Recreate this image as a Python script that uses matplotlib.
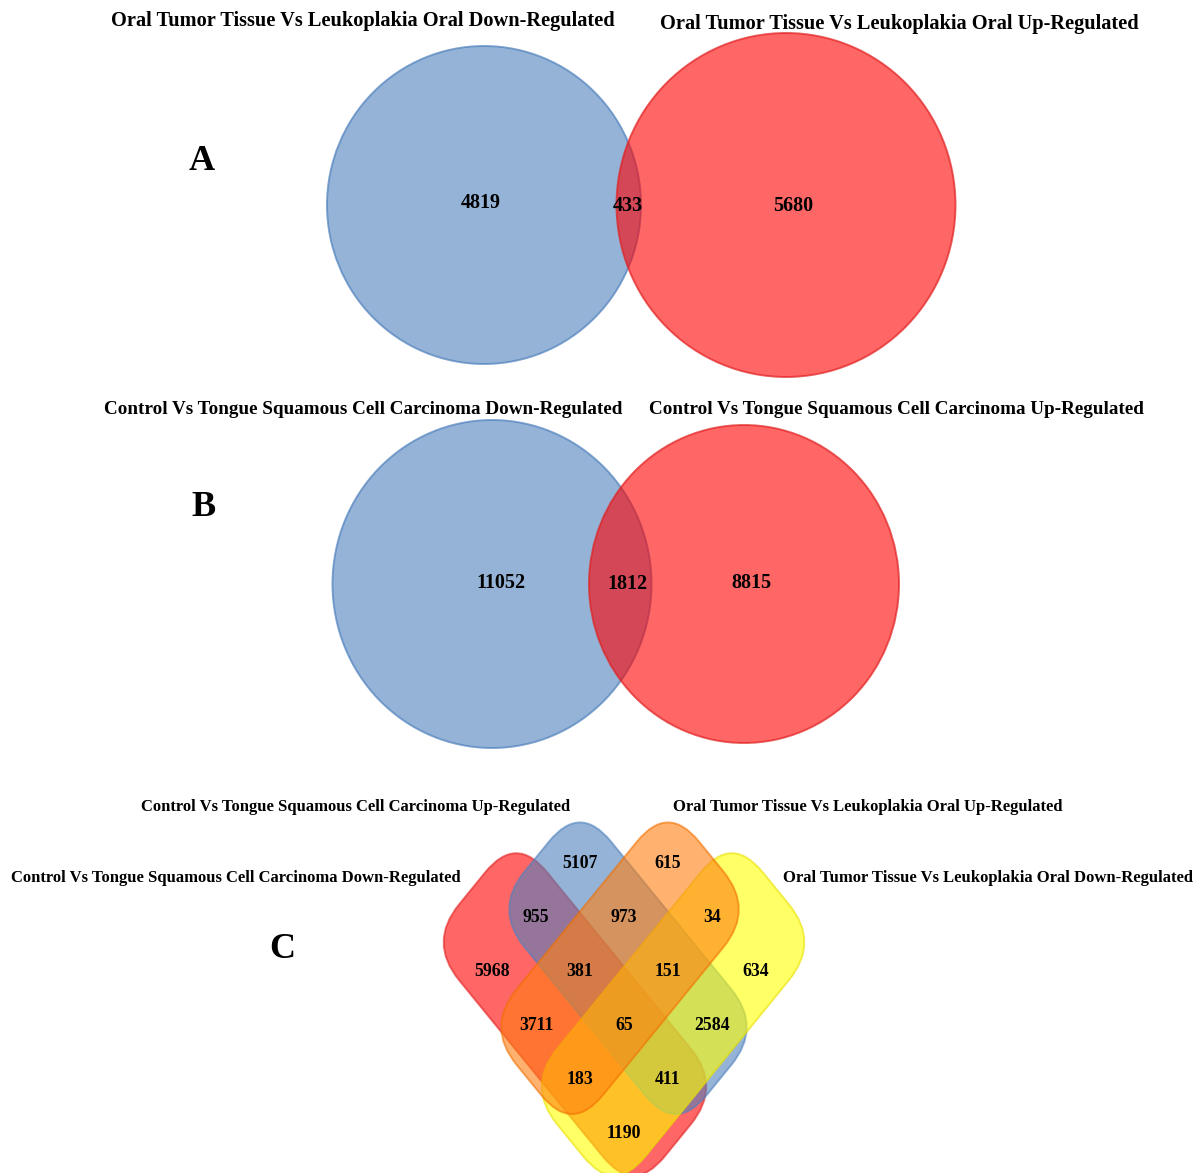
import matplotlib
matplotlib.use("Agg")
import matplotlib.pyplot as plt
from matplotlib.patches import Ellipse, FancyBboxPatch
from matplotlib.transforms import Affine2D

# ---- data -------------------------------------------------------------
# Panel A: oral tumour tissue vs leukoplakia (down-only, shared, up-only)
panel_a_titles = ["Oral Tumor Tissue Vs Leukoplakia Oral Down-Regulated",
                  "Oral Tumor Tissue Vs Leukoplakia Oral Up-Regulated"]
panel_a_counts = [4819, 433, 5680]

# Panel B: control vs tongue squamous cell carcinoma
panel_b_titles = ["Control Vs Tongue Squamous Cell Carcinoma Down-Regulated",
                  "Control Vs Tongue Squamous Cell Carcinoma Up-Regulated"]
panel_b_counts = [11052, 1812, 8815]

# Panel C: four-way comparison
panel_c_sets = ["Control Vs Tongue Squamous Cell Carcinoma Down-Regulated",
                "Control Vs Tongue Squamous Cell Carcinoma Up-Regulated",
                "Oral Tumor Tissue Vs Leukoplakia Oral Up-Regulated",
                "Oral Tumor Tissue Vs Leukoplakia Oral Down-Regulated"]
panel_c_regions = ["5107", "615", "955", "973", "34", "5968", "381", "151",
                   "634", "3711", "65", "2584", "183", "411", "1190"]
panel_c_counts = [5107, 615, 955, 973, 34, 5968, 381, 151,
                  634, 3711, 65, 2584, 183, 411, 1190]

# ---- layout / style ---------------------------------------------------
W, H = 1201, 1173
FONT = "Liberation Serif"
BLUE_FC, BLUE_EC = "#4F81BD", "#4F81BD"
RED_FC, RED_EC = "#FF0000", "#E02020"
ORANGE_FC, ORANGE_EC = "#FF7F10", "#F07000"
YELLOW_FC, YELLOW_EC = "#FFFF00", "#E8E000"

fig = plt.figure(figsize=(W / 100, H / 100), dpi=100)
ax = fig.add_axes([0, 0, 1, 1])
ax.set_xlim(0, W)
ax.set_ylim(H, 0)
ax.axis("off")


def txt(x, y, s, size, **kw):
    ax.text(x, y, s, fontsize=size, fontfamily=FONT, fontweight="bold",
            ha="center", va="center", color="black", zorder=10, **kw)


def two_set(centers, sizes, counts, label_pos, titles, title_pos, title_size,
            letter, letter_pos):
    colors = [(BLUE_FC, BLUE_EC), (RED_FC, RED_EC)]
    for (cx, cy), (w, h), (fc, ec) in zip(centers, sizes, colors):
        ax.add_patch(Ellipse((cx, cy), w, h, facecolor=fc, alpha=0.6,
                             edgecolor="none"))
        ax.add_patch(Ellipse((cx, cy), w, h, facecolor="none",
                             edgecolor=ec, alpha=0.7, lw=1.4))
    for (x, y), c in zip(label_pos, counts):
        txt(x, y, str(c), 14.5)
    for (x, y), t in zip(title_pos, titles):
        txt(x, y, t, title_size)
    txt(letter_pos[0], letter_pos[1], letter, 26)


two_set(centers=[(484, 205), (786, 205)], sizes=[(314, 318), (339, 344)],
        counts=panel_a_counts, label_pos=[(481, 203), (628, 206), (793, 206)],
        titles=panel_a_titles, title_pos=[(363, 21), (899, 24)], title_size=14.7,
        letter="A", letter_pos=(202, 162))

two_set(centers=[(492, 584), (744, 584)], sizes=[(319, 328), (310, 318)],
        counts=panel_b_counts, label_pos=[(501, 583), (627, 584), (751, 583)],
        titles=panel_b_titles, title_pos=[(363, 410), (896, 409)], title_size=13.8,
        letter="B", letter_pos=(203, 508))

# ---- panel C: four rounded bands on a diagonal lattice ----------------
# lattice (p, q): p runs down-right, q runs down-left
lattice = Affine2D().from_values(44, 54, -44, 54, 624, 1026) + ax.transData

# extents of each band in lattice units: (p_min, q_min, p_len, q_len)
bands = {"red": (-3.00, -0.55, 4.67, 2.00),     # control down
         "blue": (-2.56, -1.56, 4.14, 1.96),    # control up
         "orange": (-1.56, -2.56, 1.96, 4.14),  # oral up
         "yellow": (-0.55, -3.00, 2.00, 4.67)}  # oral down
band_colors = {"red": (RED_FC, RED_EC), "blue": (BLUE_FC, BLUE_EC),
               "orange": (ORANGE_FC, ORANGE_EC), "yellow": (YELLOW_FC, YELLOW_EC)}
for name in ["red", "blue", "yellow", "orange"]:
    p0, q0, lp, lq = bands[name]
    fc, ec = band_colors[name]
    style = "round,pad=0,rounding_size=0.7"
    ax.add_patch(FancyBboxPatch((p0, q0), lp, lq, boxstyle=style,
                                facecolor=fc, alpha=0.6, edgecolor="none",
                                transform=lattice))
    ax.add_patch(FancyBboxPatch((p0, q0), lp, lq, boxstyle=style,
                                facecolor="none", edgecolor=ec, alpha=0.6,
                                lw=1.4, transform=lattice))

region_cells = [(-2, -1), (-1, -2), (-2, 0), (-1, -1), (0, -2), (-2, 1),
                (-1, 0), (0, -1), (1, -2), (-1, 1), (0, 0), (1, -1),
                (0, 1), (1, 0), (1, 1)]
for (p, q), c in zip(region_cells, panel_c_counts):
    ax.text(p, q, str(c), transform=lattice, fontsize=12.8, fontfamily=FONT,
            fontweight="bold", ha="center", va="center", zorder=10)

set_title_pos = [(236, 878), (356, 807), (868, 807), (988, 878)]
for (x, y), t in zip(set_title_pos, panel_c_sets):
    txt(x, y, t, 12)
txt(282, 950, "C", 26)

fig.savefig("out.png", dpi=100)
